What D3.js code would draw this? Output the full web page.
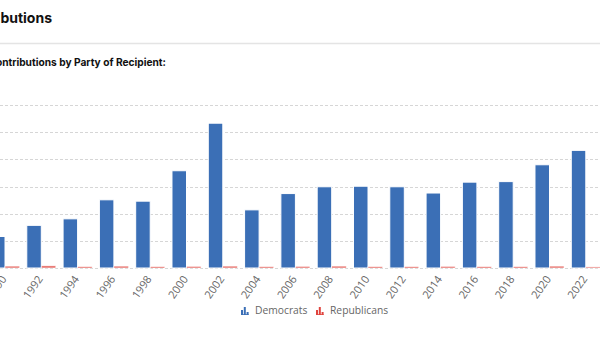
<!DOCTYPE html>
<html>
<head>
<meta charset="utf-8">
<script src="https://cdn.jsdelivr.net/npm/d3@7"></script>
<style>
  html, body { margin: 0; padding: 0; background: #fff; }
  svg { display: block; }
</style>
</head>
<body>
<svg id="chart" width="600" height="337"></svg>
<script>
// ---- data (values in gridline units; the y-axis labels are cropped out of the view) ----
const years = ["1990","1992","1994","1996","1998","2000","2002","2004","2006","2008","2010","2012","2014","2016","2018","2020","2022"];
const democrats   = [1.16, 1.57, 1.81, 2.51, 2.46, 3.58, 5.33, 2.14, 2.74, 2.99, 3.01, 2.99, 2.76, 3.16, 3.18, 3.80, 4.33];
const republicans = [0.07, 0.08, 0.05, 0.07, 0.05, 0.06, 0.07, 0.05, 0.06, 0.07, 0.05, 0.05, 0.06, 0.05, 0.05, 0.07, 0.04];
const yTicks = [0, 1, 2, 3, 4, 5, 6];
const seriesNames = ["Democrats", "Republicans"];
const seriesColors = ["#3b6fb6", "#e0443e"];

const svg = d3.select("#chart");
const W = 600, H = 337;
svg.append("rect").attr("width", W).attr("height", H).attr("fill", "#fff");

// Titles (the page is cropped on the left, so text is anchored at its visible end)
svg.append("text")
  .attr("x", 52).attr("y", 23)
  .attr("text-anchor", "end")
  .attr("font-family", "Inter, Roboto, sans-serif")
  .attr("font-weight", 700).attr("font-size", 14)
  .attr("fill", "#111")
  .text("Contributions");

svg.append("line")
  .attr("x1", 0).attr("x2", W).attr("y1", 43.5).attr("y2", 43.5)
  .attr("stroke", "#e4e4e4").attr("stroke-width", 1.5);

svg.append("text")
  .attr("x", 166).attr("y", 66)
  .attr("text-anchor", "end")
  .attr("font-family", "Inter, Roboto, sans-serif")
  .attr("font-weight", 700).attr("font-size", 10.2)
  .attr("fill", "#111")
  .text("Contributions by Party of Recipient:");

// Scales
const x = d3.scaleBand().domain(years).range([-13.15, 603.95]).paddingInner(0).paddingOuter(0);
const xs = d3.scaleBand().domain(seriesNames).range([0, x.bandwidth()]).paddingInner(0).paddingOuter(0.25);
const y = d3.scaleLinear().domain([0, 6]).range([268, 105]);

// Gridlines
svg.append("g").selectAll("line").data(yTicks).join("line")
  .attr("x1", 0).attr("x2", W)
  .attr("y1", d => Math.round(y(d)) + 0.5).attr("y2", d => Math.round(y(d)) + 0.5)
  .attr("stroke", "#d6d6d6").attr("stroke-width", 1)
  .attr("stroke-dasharray", "3,2");

// Bars
const series = [democrats, republicans];
series.forEach((vals, si) => {
  svg.append("g").selectAll("rect").data(years).join("rect")
    .attr("x", (d) => x(d) + xs(seriesNames[si]))
    .attr("width", xs.bandwidth())
    .attr("y", (d, i) => y(vals[i]))
    .attr("height", (d, i) => y(0) - y(vals[i]))
    .attr("fill", seriesColors[si])
    .attr("stroke", "#fff").attr("stroke-width", si === 0 ? 1 : 0.5)
    .attr("fill-opacity", si === 0 ? 1 : 0.75);
});

// X axis labels (rotated)
const xAxis = d3.axisBottom(x).tickSize(0).tickPadding(0);
const gx = svg.append("g").attr("transform", "translate(0,268)").call(xAxis);
gx.select(".domain").remove();
gx.selectAll(".tick text")
  .attr("font-family", "'Open Sans', sans-serif")
  .attr("font-size", 11)
  .attr("fill", "#666")
  .attr("text-anchor", "end")
  .attr("dy", 0)
  .attr("transform", "translate(2,11) rotate(-55)")
  .attr("y", 0).attr("x", 0);

// Legend
const legend = svg.append("g");
const legendItems = [
  { name: seriesNames[0], color: seriesColors[0], x: 241 },
  { name: seriesNames[1], color: seriesColors[1], x: 316 }
];
legendItems.forEach(it => {
  const g = legend.append("g").attr("transform", `translate(${it.x},315)`);
  // small bar-chart icon
  [[0, 5], [2.8, 8], [5.6, 3]].forEach(([dx, h]) => {
    g.append("rect").attr("x", dx).attr("y", -h).attr("width", 2).attr("height", h).attr("fill", it.color);
  });
  g.append("rect").attr("x", 0).attr("y", -0.8).attr("width", 7.6).attr("height", 0.8).attr("fill", it.color);
  g.append("text")
    .attr("x", 14).attr("y", -1)
    .attr("font-family", "'Open Sans', sans-serif")
    .attr("font-size", 10.3)
    .attr("fill", "#666")
    .text(it.name);
});
</script>
</body>
</html>
